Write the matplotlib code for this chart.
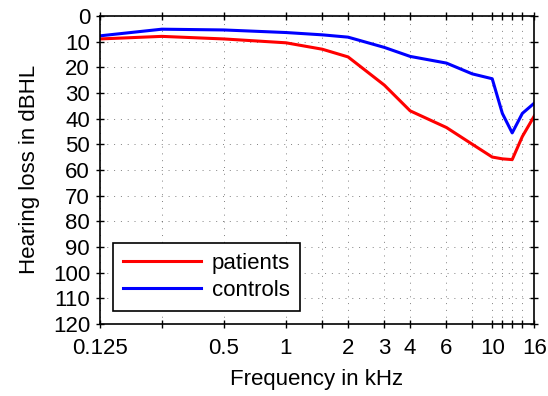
import matplotlib
matplotlib.use("Agg")
import matplotlib.pyplot as plt
from matplotlib.ticker import FixedLocator, FixedFormatter, NullLocator

plt.rcParams['font.family'] = ['Liberation Sans', 'DejaVu Sans']

# audiogram values
freq_khz = [0.125, 0.25, 0.5, 1, 1.5, 2, 3, 4, 6, 8, 10, 11.2, 12.5, 14, 16]
patients = [9, 8, 9, 10.5, 13, 16, 27, 37, 43.5, 50, 55, 55.7, 56, 47, 39]
controls = [7.8, 5.2, 5.5, 6.5, 7.4, 8.3, 12.3, 15.8, 18.4, 22.6, 24.5, 38, 45.6, 38, 34]

x_ticks = [0.125, 0.25, 0.5, 1, 1.5, 2, 3, 4, 6, 8, 10, 11.2, 12.5, 14, 16]
x_labels = ['0.125', '', '0.5', '1', '', '2', '3', '4', '6', '', '10', '', '', '', '16']
y_ticks = list(range(0, 121, 10))

fs = 16

fig = plt.figure(figsize=(5.48, 3.96), dpi=100)
ax = fig.add_axes([0.182, 0.182, 0.793, 0.778])

ax.plot(freq_khz, patients, color='#ff0000', lw=2.2, label='patients')
ax.plot(freq_khz, controls, color='#0000ff', lw=2.2, label='controls')

ax.set_xscale('log', base=2)
ax.set_xlim(0.125, 16)
ax.set_ylim(120, 0)
ax.xaxis.set_major_locator(FixedLocator(x_ticks))
ax.xaxis.set_major_formatter(FixedFormatter(x_labels))
ax.xaxis.set_minor_locator(NullLocator())
ax.set_yticks(y_ticks)

ax.tick_params(direction='inout', length=6, width=1, top=True, right=True,
               labelsize=fs)
ax.tick_params(axis='x', pad=7)
ax.tick_params(axis='y', pad=4)
ax.grid(True, color='black', linestyle=(0, (1, 6)), linewidth=0.7, alpha=0.5)
for s in ax.spines.values():
    s.set_linewidth(1.2)

ax.set_xlabel('Frequency in kHz', fontsize=fs, labelpad=7)
ax.set_ylabel('Hearing loss in dBHL', fontsize=fs, labelpad=9)

leg = ax.legend(loc='lower left', fontsize=fs, frameon=True, fancybox=False,
                edgecolor='black', handlelength=3.5, borderaxespad=0.6,
                labelspacing=0.25, handletextpad=0.5, borderpad=0.45,
                framealpha=1)
leg.get_frame().set_linewidth(1.2)

fig.savefig('out.png', dpi=100)
